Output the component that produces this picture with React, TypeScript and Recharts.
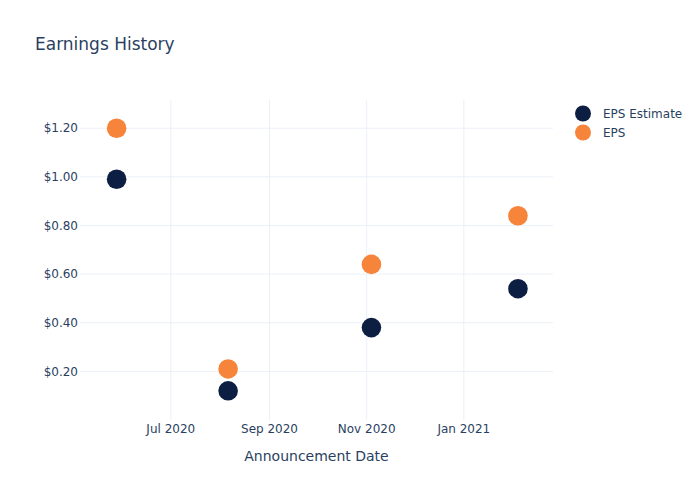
import { ScatterChart, Scatter, XAxis, YAxis, ReferenceLine } from 'recharts';

const announcementDates = ['2020-05-28', '2020-08-06', '2020-11-04', '2021-02-04'];
const epsEstimate = [0.99, 0.12, 0.38, 0.54];
const epsActual = [1.2, 0.21, 0.64, 0.84];

const xTickDates = ['2020-07-01', '2020-09-01', '2020-11-01', '2021-01-01'];
const xTickLabels = ['Jul 2020', 'Sep 2020', 'Nov 2020', 'Jan 2021'];
const yTicks = [0.2, 0.4, 0.6, 0.8, 1.0, 1.2];

const toTime = (d: string) => {
  const [y, m, day] = d.split('-').map(Number);
  return Date.UTC(y, m - 1, day);
};

const estimateData = announcementDates.map((d, i) => ({ date: toTime(d), eps: epsEstimate[i] }));
const actualData = announcementDates.map((d, i) => ({ date: toTime(d), eps: epsActual[i] }));
const xTicks = xTickDates.map(toTime);

const FONT = '"DejaVu Sans", verdana, sans-serif';
const TEXT = '#2a3f5f';
const GRID = '#ebf0f8';
const NAVY = '#0c1f43';
const ORANGE = '#f6843a';

const dot = (color: string) => (props: any) => (
  <circle cx={props.cx} cy={props.cy} r={9.8} fill={color} />
);

const legendItems = [
  { name: 'EPS Estimate', color: NAVY },
  { name: 'EPS', color: ORANGE },
];

export default function App() {
  return (
    <div style={{ position: 'absolute', left: 0, top: 0, width: 700, height: 500, background: '#fff' }}>
      <div
        style={{
          position: 'absolute',
          left: 35,
          top: 34,
          fontFamily: FONT,
          fontSize: 17,
          color: TEXT,
        }}
      >
        Earnings History
      </div>
      <div
        style={{
          position: 'absolute',
          left: 573,
          top: 104,
          fontFamily: FONT,
          fontSize: 12,
          color: TEXT,
          zIndex: 1,
        }}
      >
        {legendItems.map((item) => (
          <div key={item.name} style={{ display: 'flex', alignItems: 'center', height: 19 }}>
            <svg width={20} height={19}>
              <circle cx={10} cy={9.5} r={8} fill={item.color} />
            </svg>
            <span style={{ marginLeft: 10 }}>{item.name}</span>
          </div>
        ))}
      </div>
      <ScatterChart width={700} height={500} margin={{ top: 100, right: 147, bottom: 50, left: 0 }}>
        <XAxis
          type="number"
          dataKey="date"
          domain={[toTime('2020-05-05'), toTime('2021-02-26')]}
          ticks={xTicks}
          tickFormatter={(v: number) => xTickLabels[xTicks.indexOf(v)] ?? ''}
          axisLine={false}
          tickLine={false}
          tickSize={0}
          tickMargin={4}
          height={30}
          tick={{ fill: TEXT, fontSize: 12, fontFamily: FONT }}
          label={{
            value: 'Announcement Date',
            position: 'bottom',
            offset: 1,
            fill: TEXT,
            fontSize: 14,
            fontFamily: FONT,
          }}
        />
        <YAxis
          type="number"
          dataKey="eps"
          domain={[0, 1.316]}
          ticks={yTicks}
          tickFormatter={(v: number) => `$${v.toFixed(2)}`}
          axisLine={false}
          tickLine={false}
          tickSize={0}
          tickMargin={2}
          width={80}
          tick={{ fill: TEXT, fontSize: 12, fontFamily: FONT }}
        />
        {yTicks.map((t) => (
          <ReferenceLine key={`y${t}`} y={t} stroke={GRID} strokeWidth={1} />
        ))}
        {xTicks.map((t) => (
          <ReferenceLine key={`x${t}`} x={t} stroke={GRID} strokeWidth={1} />
        ))}
        <Scatter
          name="EPS Estimate"
          data={estimateData}
          fill={NAVY}
          shape={dot(NAVY)}
          isAnimationActive={false}
        />
        <Scatter
          name="EPS"
          data={actualData}
          fill={ORANGE}
          shape={dot(ORANGE)}
          isAnimationActive={false}
        />
      </ScatterChart>
    </div>
  );
}
